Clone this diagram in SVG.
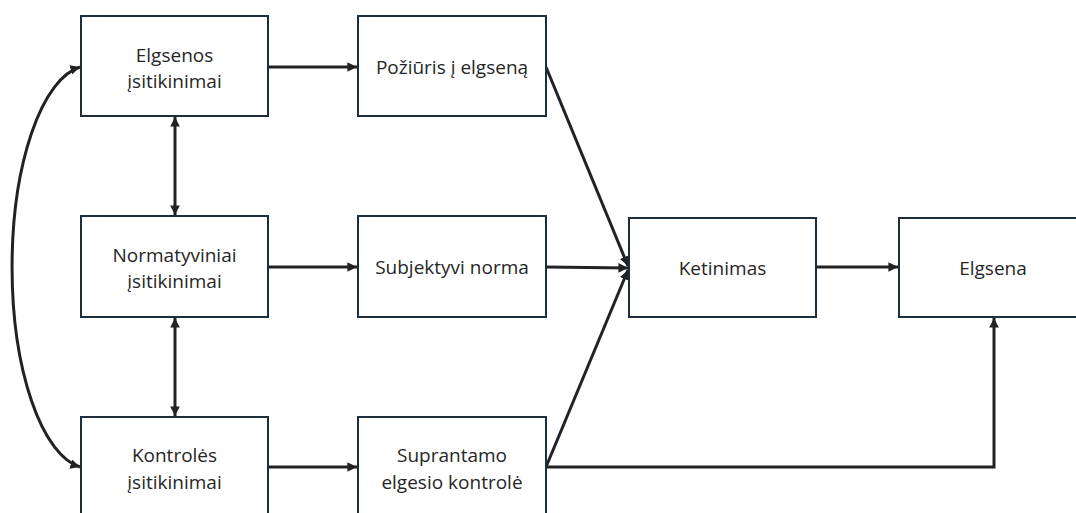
<svg xmlns="http://www.w3.org/2000/svg" width="1076" height="513" viewBox="0 0 1076 513">
<defs>
<marker id="ah" viewBox="0 0 10 10" refX="10" refY="5" markerWidth="3.2" markerHeight="3.2" orient="auto-start-reverse" markerUnits="strokeWidth">
<path d="M0,0 L10,5 L0,10 z" fill="#222"/>
</marker>
<style>
.box{fill:#fff;stroke:#1f2e3d;stroke-width:2}
.t{font-family:"Open Sans","Noto Sans",sans-serif;font-size:19px;fill:#262626;text-anchor:middle}
.c{fill:none;stroke:#222;stroke-width:3}
.a{marker-end:url(#ah)}
.d{marker-start:url(#ah);marker-end:url(#ah)}
</style>
</defs>
<rect width="1076" height="513" fill="#fff"/>
<g id="connectors">
<path class="c a" d="M268,67 H357"/>
<path class="c a" d="M268,267 H357"/>
<path class="c a" d="M268,467 H357"/>
<path class="c a" d="M546,67 L628,266"/>
<path class="c a" d="M546,267 L628,268"/>
<path class="c a" d="M546,467 L628,270"/>
<path class="c a" d="M816,267 H898"/>
<path class="c a" d="M546,467 H994 V318"/>
<path class="c d" d="M175,117 V215"/>
<path class="c d" d="M175,318 V416"/>
<path class="c d" d="M80,67 A77 201.4 0 0 0 80,467"/>
</g>
<g id="n1"><rect class="box" x="81" y="16" width="187" height="100"/><text class="t" x="174.5" y="62">Elgsenos</text><text class="t" x="174.5" y="88">įsitikinimai</text></g>
<g id="n2"><rect class="box" x="358" y="16" width="188" height="100"/><text class="t" x="452" y="74">Požiūris į elgseną</text></g>
<g id="n3"><rect class="box" x="81" y="216" width="187" height="101"/><text class="t" x="174.5" y="262">Normatyviniai</text><text class="t" x="174.5" y="288">įsitikinimai</text></g>
<g id="n4"><rect class="box" x="358" y="216" width="188" height="101"/><text class="t" x="452" y="274">Subjektyvi norma</text></g>
<g id="n5"><rect class="box" x="81" y="417" width="187" height="101"/><text class="t" x="174.5" y="462">Kontrolės</text><text class="t" x="174.5" y="489">įsitikinimai</text></g>
<g id="n6"><rect class="box" x="358" y="417" width="188" height="101"/><text class="t" x="452" y="462">Suprantamo</text><text class="t" x="452" y="489">elgesio kontrolė</text></g>
<g id="n7"><rect class="box" x="629" y="218" width="187" height="99"/><text class="t" x="722.5" y="275">Ketinimas</text></g>
<g id="n8"><rect class="box" x="899" y="218" width="187" height="99"/><text class="t" x="993" y="275">Elgsena</text></g>
</svg>
